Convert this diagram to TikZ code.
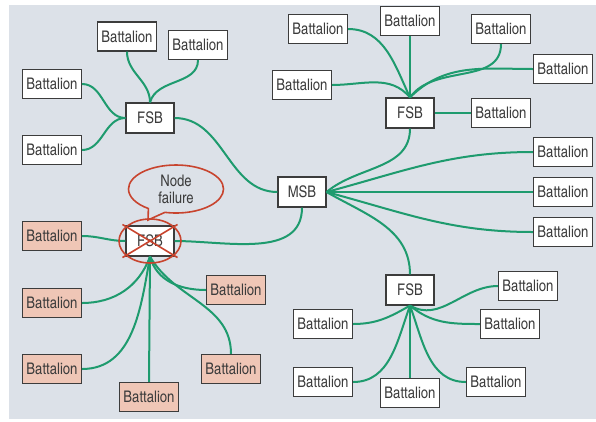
\documentclass[tikz,border=0pt]{standalone}
\usepackage{fontspec}
\setmainfont{texgyreheroscn-regular.otf}
\usetikzlibrary{shapes.callouts}
\definecolor{panel}{HTML}{DCE1E8}
\definecolor{link}{HTML}{1E9B6E}
\definecolor{lost}{HTML}{EFC6B6}
\definecolor{alarm}{HTML}{C8442E}
\definecolor{ink}{HTML}{3C3C3C}
\tikzset{
  unit/.style={draw=ink, line width=1.1pt, fill=white, text=ink, inner sep=0pt,
    minimum width=59pt, minimum height=29pt, font=\fontsize{16}{17}\selectfont},
  base/.style={unit, minimum width=48pt, minimum height=30pt},
  cut/.style={unit, fill=lost},
  wire/.style={draw=link, line width=2pt},
  failmark/.style={draw=alarm, line width=1.6pt}
}
\begin{document}
\begin{tikzpicture}[x=1pt,y=-1pt]
  \useasboundingbox (0,0) rectangle (596,421);
  \fill[panel] (9,5) rectangle (596,419);
  % west FSB
  \node[base] (fsbw) at (150,118) {FSB};
  \node[unit] (wa) at (127,36.5) {Battalion};
  \node[unit] (wb) at (198,45) {Battalion};
  \node[unit] (wc) at (52,84) {Battalion};
  \node[unit] (wd) at (52,150) {Battalion};
  % MSB
  \node[base] (msb) at (302,192) {MSB};
  % north FSB
  \node[base] (fsbn) at (410,113) {FSB};
  \node[unit] (n1) at (318,29) {Battalion};
  \node[unit] (n2) at (410,21) {Battalion};
  \node[unit] (n3) at (501,29) {Battalion};
  \node[unit] (n4) at (563,69) {Battalion};
  \node[unit] (n5) at (302,85) {Battalion};
  \node[unit] (n6) at (501,113) {Battalion};
  \node[unit] (m1) at (563,152) {Battalion};
  \node[unit] (m2) at (563,192) {Battalion};
  \node[unit] (m3) at (563,232) {Battalion};
  % south FSB
  \node[base] (fsbs) at (410,290) {FSB};
  \node[unit] (s1) at (528,286) {Battalion};
  \node[unit] (s2) at (510,324) {Battalion};
  \node[unit] (s3) at (323,324) {Battalion};
  \node[unit] (s4) at (323,382) {Battalion};
  \node[unit] (s5) at (410,393) {Battalion};
  \node[unit] (s6) at (496,382) {Battalion};
  % failed FSB
  \node[base] (fsbx) at (150,241) {FSB};
  \node[cut] (x1) at (52,236) {Battalion};
  \node[cut] (x2) at (52,303) {Battalion};
  \node[cut] (x3) at (52,369) {Battalion};
  \node[cut] (x4) at (149,397) {Battalion};
  \node[cut] (x5) at (231,369) {Battalion};
  \node[cut] (x6) at (236,290) {Battalion};

  \draw[wire] (fsbw.north) to[out=90,in=-90] (wa.south);
  \draw[wire] (fsbw.north) to[out=75,in=-90] (wb.south);
  \draw[wire] (fsbw.west) to[out=180,in=0] (wc.east);
  \draw[wire] (fsbw.west) to[out=180,in=0] (wd.east);
  \draw[wire] (fsbw.east) to[out=0,in=180] (msb.west);

  \draw[wire] (msb.east) to[out=40,in=-90] (fsbn.south);
  \draw[wire] (msb.east) to[out=15,in=180] (m1.west);
  \draw[wire] (msb.east) -- (m2.west);
  \draw[wire] (msb.east) to[out=-15,in=180] (m3.west);
  \draw[wire] (msb.east) to[out=-30,in=90] (fsbs.north);
  \draw[wire] (msb.south) to[out=-90,in=0] (fsbx.east);

  \draw[wire] (fsbn.north) to[out=115,in=0] (n1.east);
  \draw[wire] (fsbn.north) -- (n2.south);
  \draw[wire] (fsbn.north) to[out=55,in=-90] (n3.south);
  \draw[wire] (fsbn.north) to[out=45,in=180] (n4.west);
  \draw[wire] (fsbn.north) to[out=130,in=0] (n5.east);
  \draw[wire] (fsbn.east) -- (n6.west);

  \draw[wire] (fsbs.south) to[out=-30,in=180] (s1.west);
  \draw[wire] (fsbs.south) to[out=-40,in=180] (s2.west);
  \draw[wire] (fsbs.south) to[out=-150,in=0] (s3.east);
  \draw[wire] (fsbs.south) to[out=-110,in=0] (s4.east);
  \draw[wire] (fsbs.south) -- (s5.north);
  \draw[wire] (fsbs.south) to[out=-70,in=180] (s6.west);

  \draw[wire] (x1.east) to[out=0,in=180] (fsbx.west);
  \draw[wire] (fsbx.south) to[out=-110,in=0] (x2.east);
  \draw[wire] (fsbx.south) to[out=-100,in=0] (x3.east);
  \draw[wire] (fsbx.south) -- (x4.north);
  \draw[wire] (fsbx.south) to[out=-60,in=90] (x5.north);
  \draw[wire] (fsbx.south) to[out=-75,in=180] (x6.west);

  % failure marks
  \coordinate (tip) at (148,220);
  \node[ellipse callout, failmark, text=ink, align=center, inner sep=0pt,
    minimum width=95pt, minimum height=48pt, callout pointer arc=22,
    callout absolute pointer={(tip)}, font=\fontsize{16}{17}\selectfont]
    (note) at (176,189) {Node\\failure};
  \draw[failmark] (fsbx.center) ellipse [x radius=31, y radius=22];
  \draw[failmark] ([shift={(-3,-1)}]fsbx.north west) -- ([shift={(3,1)}]fsbx.south east)
    ([shift={(3,-1)}]fsbx.north east) -- ([shift={(-3,1)}]fsbx.south west);
\end{tikzpicture}
\end{document}
